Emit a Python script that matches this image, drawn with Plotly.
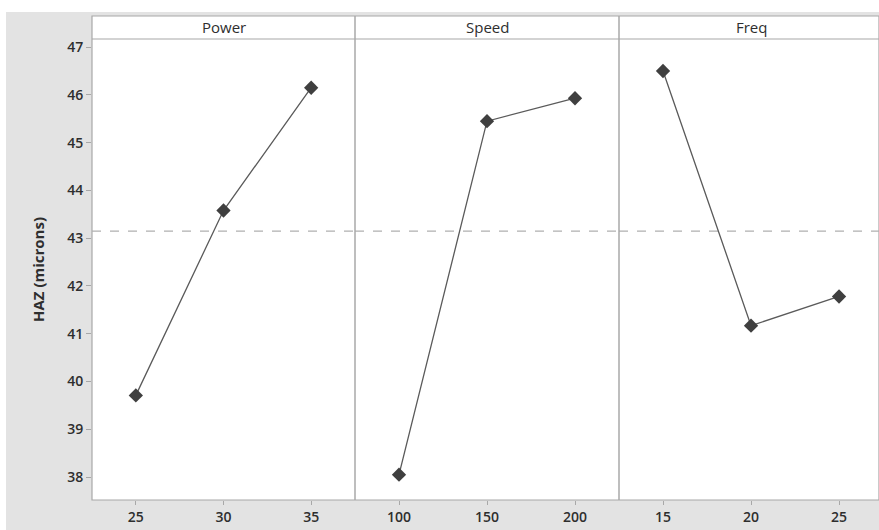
import plotly.graph_objects as go

# ---- data ----
power_levels = [25, 30, 35]
power_haz = [39.71, 43.58, 46.15]
speed_levels = [100, 150, 200]
speed_haz = [38.05, 45.45, 45.93]
freq_levels = [15, 20, 25]
freq_haz = [46.50, 41.17, 41.78]
panel_titles = ["Power", "Speed", "Freq"]
y_ticks = [38, 39, 40, 41, 42, 43, 44, 45, 46, 47]
grand_mean = 43.15

W, H = 879, 530
L, R, T, B = 92, 0, 16, 30
pw = W - L - R
ph = H - T - B

def px_x(p):
    return (p - L) / pw

def px_y(p):
    return (H - B - p) / ph

d1 = px_x(355)
d2 = px_x(619)
ytop = px_y(39)

FONT = "Open Sans"
TXT = "#2e2e2e"
LINE = "#a8a8a8"

fig = go.Figure()

panels = [
    (power_levels, power_haz, [22.5, 37.5], [0, d1]),
    (speed_levels, speed_haz, [75, 225], [d1, d2]),
    (freq_levels, freq_haz, [12.5, 27.27], [d2, 1]),
]

for i, (xs, ys, rng, dom) in enumerate(panels):
    xa = "x" if i == 0 else f"x{i+1}"
    ya = "y" if i == 0 else f"y{i+1}"
    fig.add_trace(go.Scatter(
        x=rng, y=[grand_mean, grand_mean], xaxis=xa, yaxis=ya, mode="lines",
        line=dict(color="#b0b0b0", width=1.2, dash="dash"),
        showlegend=False, hoverinfo="skip"))
    fig.add_trace(go.Scatter(
        x=xs, y=ys, xaxis=xa, yaxis=ya, mode="lines+markers",
        line=dict(color="#5a5a5a", width=1.3),
        marker=dict(symbol="diamond", size=11, color="#3f3f3f"),
        showlegend=False, hoverinfo="skip"))
    key = "xaxis" if i == 0 else f"xaxis{i+1}"
    ykey = "yaxis" if i == 0 else f"yaxis{i+1}"
    fig.layout[key] = dict(
        domain=dom, range=rng, tickvals=xs, ticktext=[str(v) for v in xs],
        showgrid=False, zeroline=False, showline=False,
        ticks="outside", ticklen=4, tickcolor=LINE, tickwidth=1,
        tickfont=dict(family=FONT, size=14, color=TXT, weight=600),
        anchor=ya, fixedrange=True)
    yd = dict(
        domain=[0, ytop], range=[37.52, 47.17], showgrid=False, zeroline=False,
        showline=False, anchor=xa, fixedrange=True)
    if i == 0:
        yd.update(
            tickvals=y_ticks, ticks="outside", ticklen=5, tickcolor=LINE,
            tickfont=dict(family=FONT, size=14, color=TXT, weight=600),
            title=dict(text="<b>HAZ (microns)</b>", standoff=18,
                       font=dict(family=FONT, size=15, color=TXT)))
    else:
        yd.update(showticklabels=False, ticks="", matches="y")
    fig.layout[ykey] = yd

shapes = []
# gray background outside
shapes.append(dict(type="rect", xref="paper", yref="paper",
                   x0=px_x(6), x1=px_x(W), y0=px_y(H), y1=px_y(12),
                   fillcolor="#e3e3e3", line=dict(width=0), layer="below"))
# white plot box
shapes.append(dict(type="rect", xref="paper", yref="paper",
                   x0=0, x1=1, y0=0, y1=1, fillcolor="white",
                   line=dict(color=LINE, width=1.2), layer="below"))
# header bottom line
shapes.append(dict(type="line", xref="paper", yref="paper",
                   x0=0, x1=1, y0=ytop, y1=ytop, line=dict(color=LINE, width=1.2)))
# panel dividers
for d in (d1, d2):
    shapes.append(dict(type="line", xref="paper", yref="paper",
                       x0=d, x1=d, y0=0, y1=1, line=dict(color=LINE, width=1.5)))

annotations = []
for (xs, ys, rng, dom), title in zip(panels, panel_titles):
    cx = (dom[0] + dom[1]) / 2 if title != "Freq" else (dom[0] + px_x(619 + 264)) / 2
    annotations.append(dict(
        text=title, xref="paper", yref="paper", x=cx, y=(ytop + 1) / 2,
        showarrow=False, xanchor="center", yanchor="middle",
        font=dict(family=FONT, size=15, color=TXT)))

fig.update_layout(
    width=W, height=H,
    margin=dict(l=L, r=R, t=T, b=B, pad=0),
    paper_bgcolor="white", plot_bgcolor="rgba(0,0,0,0)",
    shapes=shapes, annotations=annotations,
)

fig.write_html("out.html", config={"displayModeBar": False})
